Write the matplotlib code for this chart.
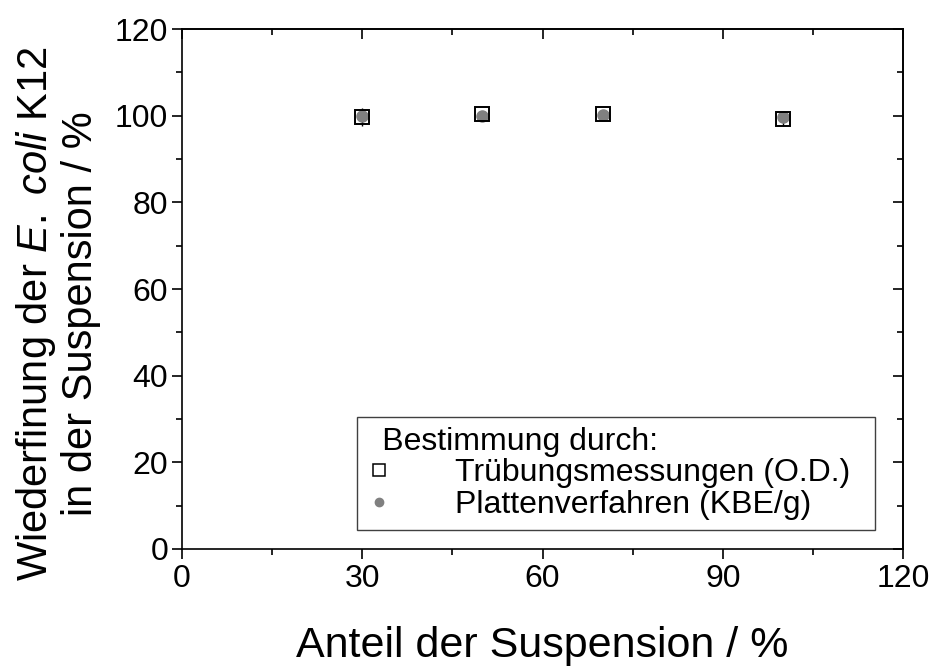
import matplotlib
matplotlib.use("Agg")
import matplotlib.pyplot as plt
from matplotlib.ticker import MultipleLocator
from matplotlib.lines import Line2D

plt.rcParams['font.family'] = ['Liberation Sans', 'DejaVu Sans']
plt.rcParams['mathtext.fontset'] = 'custom'
plt.rcParams['mathtext.it'] = 'Liberation Sans:italic'
plt.rcParams['mathtext.rm'] = 'Liberation Sans'

anteil = [30, 50, 70, 100]
od_values = [99.7, 100.3, 100.4, 99.3]
od_err = [2.0, 0.6, 0.6, 1.6]
kbe_values = [99.9, 100.0, 100.1, 99.6]

fig = plt.figure(figsize=(9.3, 6.7), dpi=100)
ax = fig.add_axes([0.1957, 0.1806, 0.7753, 0.7761])

ax.errorbar(anteil, od_values, yerr=od_err, fmt='none', ecolor='black',
            elinewidth=1, capsize=0, zorder=2)
ax.plot(anteil, kbe_values, linestyle='none', marker='o', markersize=8,
        color='#808080', markeredgecolor='#808080', zorder=3)
ax.plot(anteil, od_values, linestyle='none', marker='s', markersize=10,
        markerfacecolor='none', markeredgecolor='black', markeredgewidth=1.4,
        zorder=4)

ax.set_xlim(0, 120)
ax.set_ylim(0, 120)
ax.xaxis.set_major_locator(MultipleLocator(30))
ax.xaxis.set_minor_locator(MultipleLocator(15))
ax.yaxis.set_major_locator(MultipleLocator(20))
ax.yaxis.set_minor_locator(MultipleLocator(10))

ax.tick_params(axis='both', which='major', labelsize=23, length=7, width=1.2)
ax.tick_params(axis='both', which='minor', length=4, width=1.2)
ax.tick_params(axis='x', which='both', direction='out', bottom=True, top=False, pad=4)
ax.tick_params(axis='y', which='both', direction='out', left=True, right=False, pad=3)
for sp in ax.spines.values():
    sp.set_linewidth(1.2)

ax_top = ax.secondary_xaxis('top')
ax_top.xaxis.set_major_locator(MultipleLocator(30))
ax_top.xaxis.set_minor_locator(MultipleLocator(15))
ax_top.tick_params(which='major', direction='in', length=7, width=1.2, labeltop=False)
ax_top.tick_params(which='minor', direction='in', length=4, width=1.2)
ax_top.spines['top'].set_linewidth(1.2)

ax_r = ax.secondary_yaxis('right')
ax_r.yaxis.set_major_locator(MultipleLocator(20))
ax_r.yaxis.set_minor_locator(MultipleLocator(10))
ax_r.tick_params(which='major', direction='in', length=7, width=1.2, labelright=False)
ax_r.tick_params(which='minor', direction='in', length=4, width=1.2)
ax_r.spines['right'].set_linewidth(1.2)

ax.set_xlabel('Anteil der Suspension / %', fontsize=31)
ax.xaxis.set_label_coords(0.5, -0.148)
ax.set_ylabel('Wiederfinung der $\\it{E.\\ coli}$ K12\nin der Suspension / %',
              fontsize=30, linespacing=1.1)
ax.yaxis.set_label_coords(-0.112, 0.452)

legend_labels = ['Trübungsmessungen (O.D.)', 'Plattenverfahren (KBE/g)']
handles = [
    Line2D([], [], linestyle='none', marker='s', markersize=8,
           markerfacecolor='none', markeredgecolor='black', markeredgewidth=1.1),
    Line2D([], [], linestyle='none', marker='o', markersize=6,
           color='#808080'),
]
leg = ax.legend(handles, legend_labels,
                title=' \u2009Bestimmung durch:', title_fontsize=23, fontsize=23,
                loc='lower left', bbox_to_anchor=(0.243, 0.036, 0.718, 0.231),
                mode='expand', alignment='left', fancybox=False,
                edgecolor='#404040', framealpha=1, borderpad=0.32,
                handlelength=0.75, handletextpad=2.0, labelspacing=0.05,
                borderaxespad=0)
leg.get_frame().set_linewidth(1.0)

fig.savefig('out.png', dpi=100)
